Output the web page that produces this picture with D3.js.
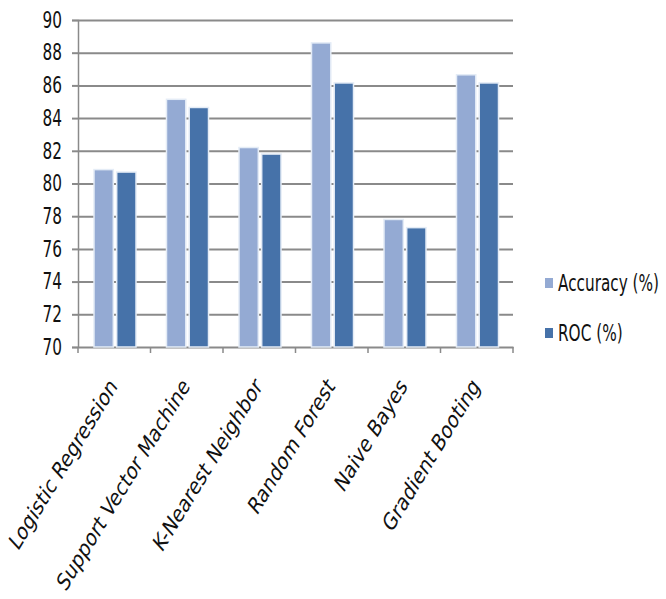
<!DOCTYPE html>
<html>
<head>
<meta charset="utf-8">
<script src="https://cdn.jsdelivr.net/npm/d3@7"></script>
<style>
  body { margin: 0; background: #fff; }
  svg text { font-family: "DejaVu Sans", "Noto Sans", sans-serif; font-stretch: condensed; }
</style>
</head>
<body>
<div class="container"></div>
<script>
// 数据
const categories = ["Logistic Regression", "Support Vector Machine", "K-Nearest Neighbor",
  "Random Forest", "Naive Bayes", "Gradient Booting"];
const seriesNames = ["Accuracy (%)", "ROC (%)"];
const accuracy = [80.85, 85.15, 82.2, 88.6, 77.8, 86.65];
const roc = [80.7, 84.65, 81.8, 86.15, 77.3, 86.15];
const yTicks = [70, 72, 74, 76, 78, 80, 82, 84, 86, 88, 90];
const colors = ["#94aad3", "#4672a9"];

const W = 666, H = 599;
const plot = { left: 78, right: 513, top: 20, bottom: 347 };
const stretch = 1.33; // 原图文字被纵向拉伸

const svg = d3.select(".container").append("svg")
  .attr("width", W).attr("height", H)
  .style("background-color", "white");

const x = d3.scaleBand().domain(categories).range([plot.left, plot.right]);
const xs = d3.scaleBand().domain(seriesNames).range([16, 58]).paddingInner(0.15);
const y = d3.scaleLinear().domain([70, 90]).range([plot.bottom, plot.top]);

// Y 轴 + 网格线
svg.append("g")
  .attr("transform", `translate(${plot.left},0)`)
  .call(d3.axisLeft(y).tickValues(yTicks).tickSize(6).tickPadding(10))
  .call(g => g.select(".domain").attr("stroke", "#8a8a8a").attr("stroke-width", 1.5))
  .call(g => g.selectAll(".tick line").attr("stroke", "#8a8a8a").attr("stroke-width", 2))
  .call(g => g.selectAll(".tick line").filter(d => d !== 70)
    .clone()
    .attr("x1", 0)
    .attr("x2", plot.right - plot.left))
  .call(g => g.selectAll(".tick text")
    .style("font-size", "17px")
    .attr("transform", `scale(1,${stretch})`)
    .attr("fill", "#111"));

// X 轴
svg.append("g")
  .attr("transform", `translate(0,${plot.bottom})`)
  .call(d3.axisBottom(x).tickSize(0).tickFormat(""))
  .call(g => g.select(".domain").attr("stroke", "#8a8a8a").attr("stroke-width", 2));

// 分类边界刻度
const boundaries = categories.map(c => x(c)).concat([plot.right]);
svg.append("g").selectAll("line")
  .data(boundaries)
  .join("line")
  .attr("x1", d => d).attr("x2", d => d)
  .attr("y1", plot.bottom).attr("y2", plot.bottom + 6)
  .attr("stroke", "#8a8a8a").attr("stroke-width", 1.5);

// 柱子
const rows = categories.map((c, i) => ({ cat: c, values: [accuracy[i], roc[i]] }));
svg.append("g").selectAll("g")
  .data(rows)
  .join("g")
  .attr("transform", d => `translate(${x(d.cat)},0)`)
  .selectAll("rect")
  .data(d => d.values.map((v, j) => ({ key: seriesNames[j], value: v, j })))
  .join("rect")
  .attr("x", d => xs(d.key))
  .attr("width", xs.bandwidth())
  .attr("y", d => y(d.value))
  .attr("height", d => y(70) - y(d.value))
  .attr("fill", d => colors[d.j])
  .attr("stroke", "#e4ecf6")
  .attr("stroke-width", 1.5);

// X 轴标签
svg.append("g").selectAll("text")
  .data(categories)
  .join("text")
  .attr("transform", d => `translate(${x(d) + x.bandwidth() / 2 + 4},${plot.bottom + 40}) scale(1,${stretch}) rotate(-51)`)
  .attr("text-anchor", "end")
  .style("font-size", "18.5px")
  .attr("fill", "#111")
  .text(d => d);

// 图例
const legend = svg.append("g").attr("transform", "translate(545,283)");
const items = legend.selectAll("g")
  .data(seriesNames)
  .join("g")
  .attr("transform", (d, i) => `translate(0,${i * 50})`);
items.append("rect")
  .attr("x", 0).attr("y", -5)
  .attr("width", 8).attr("height", 10)
  .attr("fill", (d, i) => colors[i]);
items.append("text")
  .attr("x", 13).attr("y", 0)
  .attr("dy", "0.35em")
  .attr("transform", `scale(1,${stretch})`)
  .style("font-size", "17px")
  .attr("fill", "#111")
  .text(d => d);
</script>
</body>
</html>
